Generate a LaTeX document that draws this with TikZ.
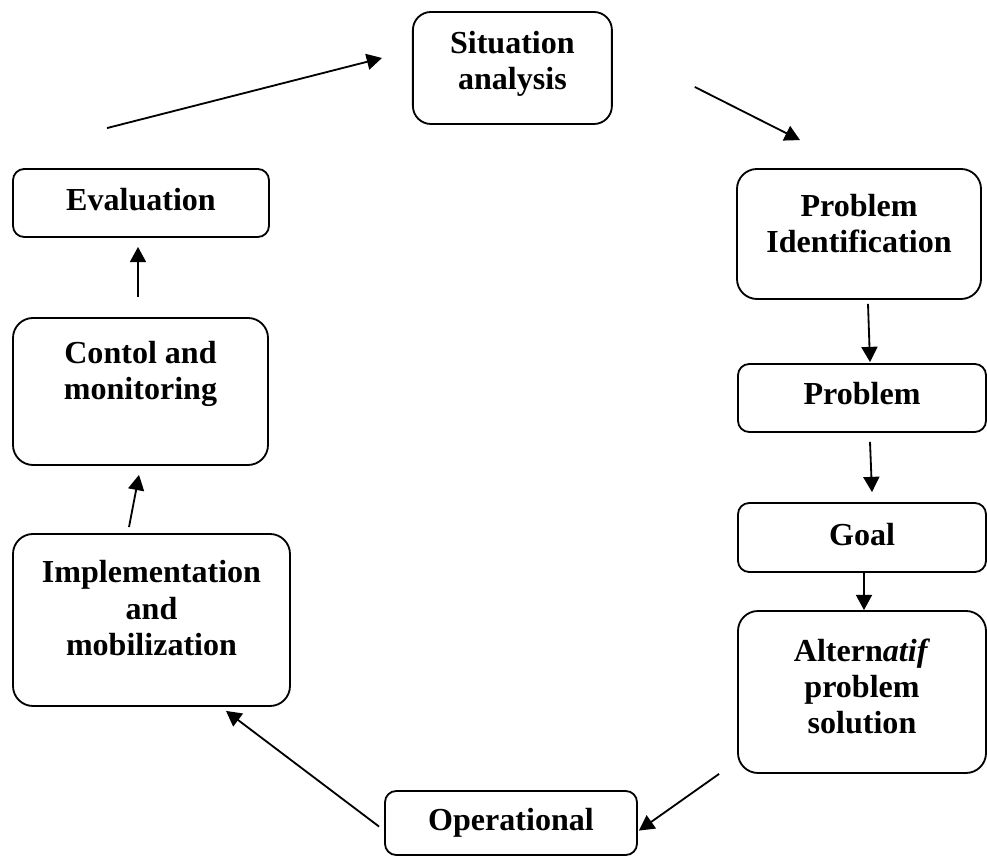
\documentclass[tikz,border=0pt]{standalone}
\usepackage{fontspec}
\setmainfont{Liberation Serif}
\usetikzlibrary{arrows.meta,calc}

\begin{document}
\begin{tikzpicture}[
  x=1cm,y=1cm,
  font=\bfseries\fontsize{22.8}{25.8}\selectfont,
  flow/.style={-{Triangle[length=3.8mm,width=4mm]}, line width=1.3pt, draw=black},
  stage/.style 2 args={draw=black, line width=1.3pt, rounded corners=#1, align=center, inner sep=2pt, text depth=#2},
  bigstage/.style={stage={0.5cm}{#1}, minimum height=3.2cm},
  smallstage/.style={stage={0.28cm}{#1}, minimum height=1.7cm},
]
\useasboundingbox (0,0) rectangle (24.675,21.425);

\node[stage={0.45cm}{11pt}, minimum width=4.975cm, minimum height=2.8cm] (sit) at (12.81,19.725) {Situation\\analysis};
\node[bigstage=15pt, minimum width=6.1cm, minimum height=3.25cm] (probid) at (21.475,15.575) {Problem\\Identification};
\node[smallstage=6pt, minimum width=6.2cm] (prob) at (21.55,11.475) {Problem};
\node[smallstage=5pt, minimum width=6.2cm, minimum height=1.725cm] (goal) at (21.55,7.987) {Goal};
\node[bigstage=8pt, minimum width=6.2cm, minimum height=4.05cm] (alt) at (21.55,4.125) {Altern\textit{atif}\\problem\\solution};
\node[smallstage=5pt, minimum width=6.3cm, minimum height=1.6cm] (oper) at (12.775,0.85) {Operational};
\node[bigstage=17pt, minimum width=6.925cm, minimum height=4.3cm] (impl) at (3.7875,5.925) {Implementation\\and\\mobilization};
\node[bigstage=30pt, minimum width=6.375cm, minimum height=3.675cm] (contol) at (3.5125,11.6375) {Contol and\\monitoring};
\node[smallstage=5pt, minimum width=6.4cm] (eval) at (3.525,16.35) {Evaluation};

\draw[flow] ($(eval.north)+(-0.85,1.0)$) -- ($(sit.west)+(-0.75,0.25)$);
\draw[flow] ($(sit.east)+(2.05,-0.475)$) -- ($(probid.north)+(-1.475,0.7)$);
\draw[flow] ($(probid.south)+(0.225,-0.1)$) -- ($(prob.north)+(0.2,0.025)$);
\draw[flow] ($(prob.south)+(0.2,-0.225)$) -- ($(goal.north)+(0.25,0.25)$);
\draw[flow] ($(goal.south)+(0.05,0)$) -- ($(alt.north)+(0.05,0)$);
\draw[flow] ($(alt.south west)+(-0.45,0)$) -- ($(oper.east)+(0.025,-0.19)$);
\draw[flow] ($(oper.west)+(-0.125,-0.09)$) -- ($(impl.south)+(1.8625,-0.1)$);
\draw[flow] ($(impl.north)+(-0.5625,0.15)$) -- ($(contol.south)+(-0.0375,-0.225)$);
\draw[flow] ($(contol.north)+(-0.0625,0.5)$) -- ($(eval.south)+(-0.075,-0.225)$);
\end{tikzpicture}
\end{document}
